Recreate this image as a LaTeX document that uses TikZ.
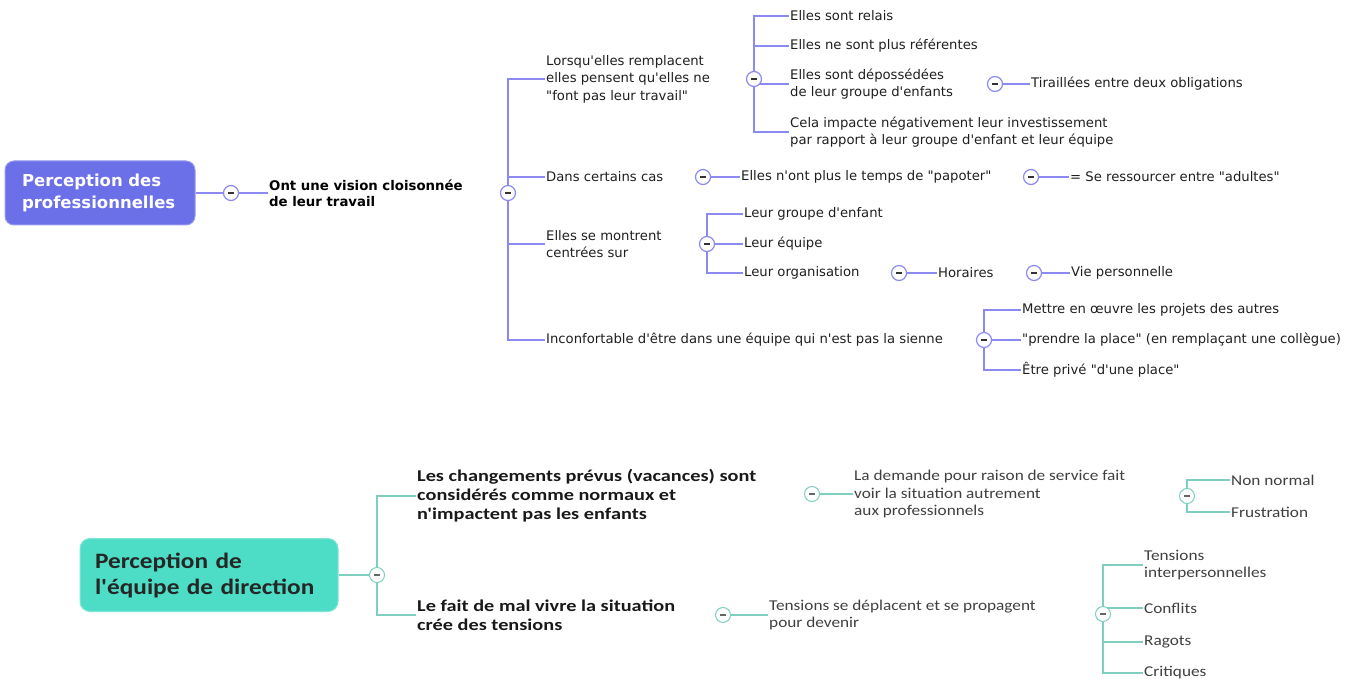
\documentclass[tikz,border=0pt]{standalone}
\usepackage{fontspec}
\newfontfamily\topfont{DejaVu Sans}[Ligatures=TeXOff]
\newfontfamily\topbfont{DejaVu Sans Bold}[Ligatures=TeXOff]
\newfontfamily\botfont{Carlito}[FakeStretch=1.15,Ligatures=TeXOff]
\newfontfamily\botbfont{Carlito Bold}[FakeStretch=1.23,Ligatures=TeXOff]
\newfontfamily\botrfont{Carlito Bold}[FakeStretch=1.15,Ligatures=TeXOff]
\definecolor{pblue}{HTML}{6B6FE8}
\definecolor{lblue}{HTML}{8A8AF0}
\definecolor{tealfill}{HTML}{4DDCC5}
\definecolor{tline}{HTML}{7FCFC0}
\definecolor{gtxt}{HTML}{404040}
\pgfdeclarelayer{bg}
\pgfsetlayers{bg,main}
\tikzset{
  togA/.style={circle, draw=lblue, fill=white, line width=1.2pt, minimum size=15pt, inner sep=0pt,
    path picture={\draw[line width=1.6pt, black!80]
      ([xshift=-3pt]path picture bounding box.center) -- ([xshift=3pt]path picture bounding box.center);}},
  togB/.style={togA, draw=tline, line width=1pt,
    path picture={\draw[line width=1.4pt, black!60]
      ([xshift=-3pt]path picture bounding box.center) -- ([xshift=3pt]path picture bounding box.center);}},
  tt/.style={anchor=west, align=left, inner sep=1pt, text=black!88,
    font=\topfont\fontsize{13.2}{17.5}\selectfont},
  ttb/.style={anchor=west, align=left, inner sep=1pt, text=black,
    font=\topbfont\fontsize{13.3}{16}\selectfont},
  bt/.style={anchor=west, align=left, inner sep=1pt, text=gtxt,
    font=\botfont\fontsize{15}{17.5}\selectfont},
  btb/.style={anchor=west, align=left, inner sep=1pt, text=black!90,
    font=\botbfont\fontsize{16.5}{19}\selectfont},
  connA/.style={draw=lblue, line width=1.2pt},
  connB/.style={draw=tline, line width=1.1pt},
  rootA/.style={rounded corners=9pt, fill=pblue, draw=pblue!70!white, line width=1pt,
    minimum width=190pt, minimum height=64pt, inner xsep=17pt, text width=156pt, align=left,
    text=white, font=\topbfont\fontsize{16.5}{22.5}\selectfont},
  rootB/.style={rounded corners=10pt, fill=tealfill, draw=tealfill!70!white, line width=1pt,
    minimum width=258pt, minimum height=73pt, inner xsep=15pt, text width=228pt, align=left,
    text=black!85, font=\botrfont\fontsize{22}{26}\selectfont}
}
\begin{document}
\begin{tikzpicture}[x=1pt,y=-1pt]
\useasboundingbox (0,0) rectangle (1355,679);
% ---------------- top map ----------------
\node[rootA] (r1) at (100,193) {Perception des\\professionnelles};
\node[togA] (c0) at (231,193) {};
\node[ttb] (ont) at (268,193) {Ont une vision cloisonnée\\de leur travail};
\node[togA] (c1) at (508,193) {};
\node[tt] (b1) at (545,79) {Lorsqu'elles remplacent\\elles pensent qu'elles ne\\"font pas leur travail"};
\node[tt] (b2) at (545,177) {Dans certains cas};
\node[tt] (b3) at (545,244) {Elles se montrent\\centrées sur};
\node[tt] (b4) at (545,340) {Inconfortable d'être dans une équipe qui n'est pas la sienne};
% branch 1
\node[togA] (c11) at (754,79) {};
\node[tt] (relais) at (789,16) {Elles sont relais};
\node[tt] (refer) at (789,46) {Elles ne sont plus référentes};
\node[tt] (depos) at (789,84) {Elles sont dépossédées\\de leur groupe d'enfants};
\node[tt] (cela) at (789,132) {Cela impacte négativement leur investissement\\par rapport à leur groupe d'enfant et leur équipe};
\node[togA] (c111) at (995,84) {};
\node[tt] (tir) at (1030,84) {Tiraillées entre deux obligations};
% branch 2
\node[togA] (c21) at (703,177) {};
\node[tt] (papo) at (740,177) {Elles n'ont plus le temps de "papoter"};
\node[togA] (c211) at (1031,177) {};
\node[tt] (ress) at (1069,177) {= Se ressourcer entre "adultes"};
% branch 3
\node[togA] (c31) at (707,244) {};
\node[tt] (grp) at (743,214) {Leur groupe d'enfant};
\node[tt] (equ) at (743,244) {Leur équipe};
\node[tt] (org) at (743,273) {Leur organisation};
\node[togA] (c311) at (899,273) {};
\node[tt] (hor) at (937,273) {Horaires};
\node[togA] (c3111) at (1034,273) {};
\node[tt] (vie) at (1070,273) {Vie personnelle};
% branch 4
\node[togA] (c41) at (984,340) {};
\node[tt] (mett) at (1021,310) {Mettre en œuvre les projets des autres};
\node[tt] (pren) at (1021,340) {"prendre la place" (en remplaçant une collègue)};
\node[tt] (etre) at (1021,370) {Être privé "d'une place"};
% ---------------- bottom map ----------------
\node[rootB] (r2) at (209,575) {Perception de\\l'équipe de direction};
\node[togB] (d0) at (377,575) {};
\node[btb] (chg) at (416,496) {Les changements prévus (vacances) sont\\considérés comme normaux et\\n'impactent pas les enfants};
\node[btb] (fait) at (416,615) {Le fait de mal vivre la situation\\crée des tensions};
\node[togB] (d1) at (812,494) {};
\node[bt] (dem) at (853,494) {La demande pour raison de service fait\\voir la situation autrement\\aux professionnels};
\node[togB] (d11) at (1187,496) {};
\node[bt] (nonn) at (1230,480) {Non normal};
\node[bt] (frus) at (1230,512) {Frustration};
\node[togB] (d2) at (723,615) {};
\node[bt] (tens) at (768,615) {Tensions se déplacent et se propagent\\pour devenir};
\node[togB] (d21) at (1103,614) {};
\node[bt] (inter) at (1143,565) {Tensions\\interpersonnelles};
\node[bt] (conf) at (1143,608) {Conflits};
\node[bt] (rag) at (1143,642) {Ragots};
\node[bt] (crit) at (1143,673) {Critiques};
% ---------------- connectors ----------------
\begin{pgfonlayer}{bg}
\draw[connA] (r1.east) -- (c0.center) -- (ont.west);
\foreach \t in {b1,b2,b3,b4} \draw[connA] (c1.center) |- (\t.west);
\foreach \t in {relais,refer,depos,cela} \draw[connA] (c11.center) |- (\t.west);
\draw[connA] (c111.center) -- (tir.west);
\draw[connA] (c21.center) -- (papo.west);
\draw[connA] (c211.center) -- (ress.west);
\foreach \t in {grp,equ,org} \draw[connA] (c31.center) |- (\t.west);
\draw[connA] (c311.center) -- (hor.west);
\draw[connA] (c3111.center) -- (vie.west);
\foreach \t in {mett,pren,etre} \draw[connA] (c41.center) |- (\t.west);
\draw[connB] (r2.east) -- (d0.center);
\foreach \t in {chg,fait} \draw[connB] (d0.center) |- (\t.west);
\draw[connB] (d1.center) -- (dem.west);
\foreach \t in {nonn,frus} \draw[connB] (d11.center) |- (\t.west);
\draw[connB] (d2.center) -- (tens.west);
\foreach \t in {inter,conf,rag,crit} \draw[connB] (d21.center) |- (\t.west);
\end{pgfonlayer}
\end{tikzpicture}
\end{document}
